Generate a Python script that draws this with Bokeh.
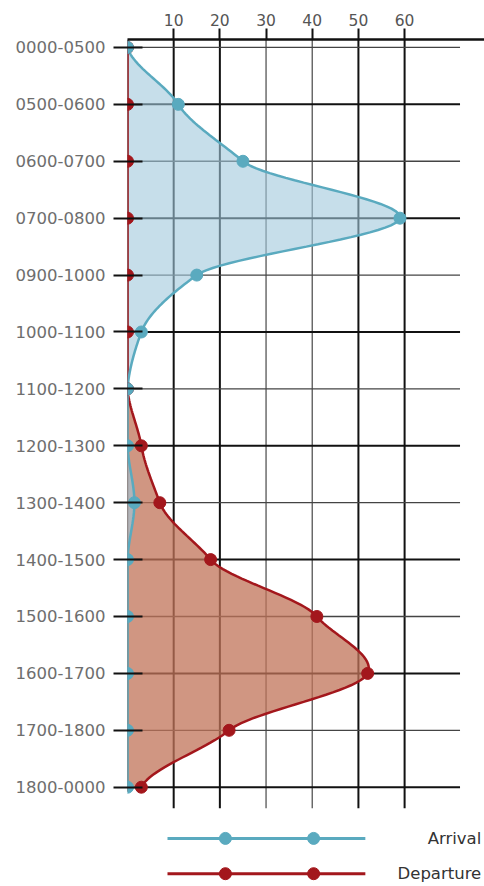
import numpy as np
from bokeh.plotting import figure
from bokeh.models import Range1d, FixedTicker, ColumnDataSource
from bokeh.embed import file_html
from bokeh.resources import INLINE
from bokeh.core.properties import value

slots = ["0000-0500", "0500-0600", "0600-0700", "0700-0800", "0900-1000",
         "1000-1100", "1100-1200", "1200-1300", "1300-1400", "1400-1500",
         "1500-1600", "1600-1700", "1700-1800", "1800-0000"]
arrival = [0, 11, 25, 59, 15, 3, 0, 0, 1.5, 0, 0, 0, 0, 0]
departure = [0, 0, 0, 0, 0, 0, 0, 3, 7, 18, 41, 52, 22, 3]
x_ticks = [10, 20, 30, 40, 50, 60]
series_names = ["Arrival", "Departure"]

ARR_LINE = "#5aaabf"
ARR_FILL = "#a0c8dc"
DEP_LINE = "#a3171c"
DEP_FILL = "#c07358"
FONT = "DejaVu Sans"

n = len(slots)
idx = list(range(n))


def spline(vals, steps=24, tension=0.6):
    """Cardinal curve through the data points (x as function of row)."""
    v = list(vals)
    xs, ys = [], []
    for i in range(n - 1):
        p0 = v[i - 1] if i > 0 else v[i]
        p1, p2 = v[i], v[i + 1]
        p3 = v[i + 2] if i + 2 < n else v[i + 1]
        m1 = tension * (p2 - p0) / 2.0
        m2 = tension * (p3 - p1) / 2.0
        for t in np.linspace(0, 1, steps, endpoint=(i == n - 2)):
            h00 = 2 * t**3 - 3 * t**2 + 1
            h10 = t**3 - 2 * t**2 + t
            h01 = -2 * t**3 + 3 * t**2
            h11 = t**3 - t**2
            xs.append(max(0.0, h00 * p1 + h10 * m1 + h01 * p2 + h11 * m2))
            ys.append(i + t)
    return xs, ys


# scale: value 0 at frame left, ~4.62 px per unit; rows ~56.9 px apart
x_end = 77.3
y_top = -0.14
y_bot = 14.745

p = figure(width=484, height=886, x_range=Range1d(0, x_end),
           y_range=Range1d(y_bot, y_top), x_axis_location="above",
           min_border_left=127, min_border_top=39, min_border_right=0,
           min_border_bottom=0, output_backend="svg", toolbar_location=None)
p.outline_line_color = None
p.xgrid.visible = False
p.ygrid.visible = False
p.background_fill_color = "white"

# top axis
xa = p.xaxis[0]
xa.ticker = FixedTicker(ticks=x_ticks)
xa.axis_line_color = "#111111"
xa.axis_line_width = 2.5
xa.major_tick_line_color = "#111111"
xa.major_tick_line_width = 2
xa.major_tick_out = 11
xa.major_tick_in = 0
xa.minor_tick_line_color = None
xa.major_label_standoff = 3
xa.major_label_text_font = FONT
xa.major_label_text_font_size = "15.5px"
xa.major_label_text_color = "#555555"

# left axis
ya = p.yaxis[0]
ya.ticker = FixedTicker(ticks=idx)
ya.major_label_overrides = {i: s for i, s in enumerate(slots)}
ya.axis_line_color = None
ya.major_tick_line_color = "#111111"
ya.major_tick_line_width = 2
ya.major_tick_out = 14
ya.major_tick_in = 15
ya.minor_tick_line_color = None
ya.major_label_standoff = 8
ya.major_label_text_font = FONT
ya.major_label_text_font_size = "16.5px"
ya.major_label_text_color = "#6e6e6e"

# grid lines
grid_bottom = (n - 1) + 0.37
v_width = [2, 2, 1.3, 1.3, 2, 2]
v_color = ["#111111", "#111111", "#555555", "#555555", "#111111", "#111111"]
p.segment(x0=x_ticks, y0=[y_top] * len(x_ticks), x1=x_ticks,
          y1=[grid_bottom] * len(x_ticks), line_width=v_width, line_color=v_color)
h_width = [1.3 if i % 2 == 0 else 2 for i in idx]
h_color = ["#444444" if i % 2 == 0 else "#111111" for i in idx]
p.segment(x0=[0] * n, y0=idx, x1=[72] * n, y1=idx,
          line_width=h_width, line_color=h_color)
# left axis line
p.segment(x0=[0], y0=[y_top], x1=[0], y1=[n - 1 + 0.08],
          line_width=2, line_color="#111111")

ax, ay = spline(arrival)
dx, dy = spline(departure)

p.harea(x1=[0] * len(dy), x2=dx, y=dy, fill_color=DEP_FILL, fill_alpha=0.75)
p.harea(x1=[0] * len(ay), x2=ax, y=ay, fill_color=ARR_FILL, fill_alpha=0.6)

p.line(dx, dy, line_color=DEP_LINE, line_width=2.5)
p.line(ax, ay, line_color=ARR_LINE, line_width=2.5)

src = ColumnDataSource(dict(y=idx, arr=arrival, dep=departure))
p.scatter("dep", "y", source=src, size=12, fill_color=DEP_LINE, line_color=DEP_LINE)
p.scatter("arr", "y", source=src, size=12, fill_color=ARR_LINE, line_color=ARR_LINE)

# legend (drawn below the grid)
leg_y = [13.9, 14.52]
leg_colors = [ARR_LINE, DEP_LINE]
for name, ly, c in zip(series_names, leg_y, leg_colors):
    p.line([8.66, 51.5], [ly, ly], line_color=c, line_width=3)
    p.scatter([21.2, 40.3], [ly, ly], size=12, fill_color=c, line_color=c)
p.text(x=[76.6, 76.6], y=leg_y, text=series_names, text_align="right",
       text_baseline="middle", text_font=value(FONT), text_font_size="16.5px",
       text_color="#333333")

open("out.html", "w").write(file_html(p, INLINE))
